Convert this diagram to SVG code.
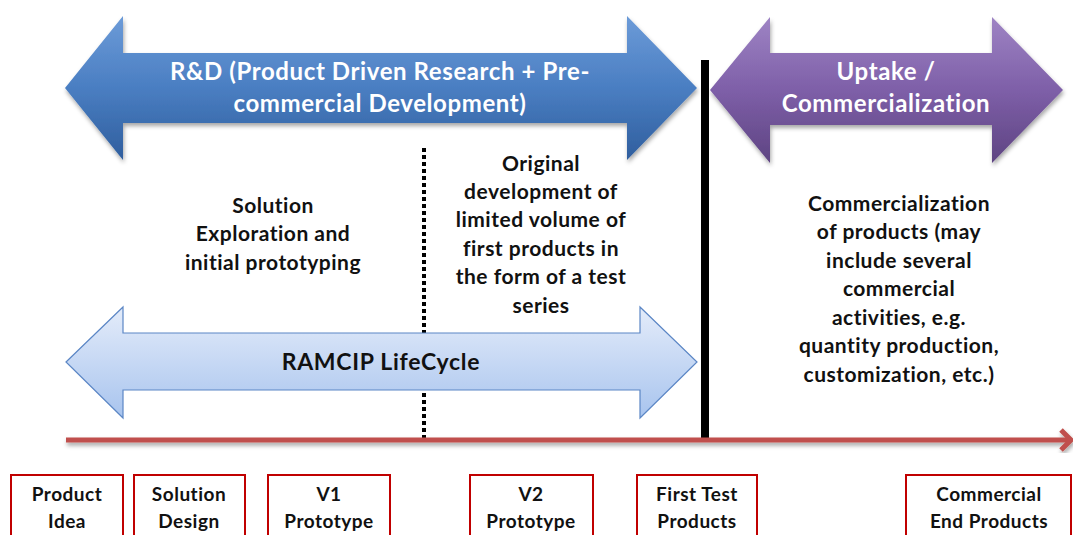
<svg xmlns="http://www.w3.org/2000/svg" width="1073" height="535" viewBox="0 0 1073 535">
<style>
.t{font-family:Lato,"Liberation Sans",sans-serif;font-weight:bold;text-anchor:middle}
.w{fill:#ffffff;font-size:24px;letter-spacing:0.6px}
.b{fill:#111111;font-size:21px;letter-spacing:0.5px}
.box{fill:#ffffff;stroke:#C00000;stroke-width:2}
.bt{fill:#111111;font-size:19px;letter-spacing:0.5px}
</style>
<defs>
<linearGradient id="gBlue" x1="0" y1="0" x2="0" y2="1">
<stop offset="0" stop-color="#6C9BD8"/><stop offset="0.5" stop-color="#4A7EC2"/><stop offset="1" stop-color="#2F5E9E"/>
</linearGradient>
<linearGradient id="gPurple" x1="0" y1="0" x2="0" y2="1">
<stop offset="0" stop-color="#9E84C4"/><stop offset="0.5" stop-color="#7E5FA8"/><stop offset="1" stop-color="#5E4482"/>
</linearGradient>
<linearGradient id="gLight" x1="0" y1="0" x2="0" y2="1">
<stop offset="0" stop-color="#E4ECFA"/><stop offset="1" stop-color="#A8C4EE"/>
</linearGradient>
<filter id="sh" x="-5%" y="-10%" width="110%" height="125%">
<feDropShadow dx="1" dy="3" stdDeviation="2" flood-color="#000" flood-opacity="0.35"/>
</filter>
</defs>

<g id="rd-arrow">
<path d="M65,88 L123,16 L123,53 L627,53 L627,16 L697,88 L627,160 L627,123 L123,123 L123,160 Z" fill="url(#gBlue)" filter="url(#sh)"/>
<text class="t w" x="380" y="80">R&amp;D (Product Driven Research + Pre-</text>
<text class="t w" x="380" y="112">commercial Development)</text>
</g>

<g id="uptake-arrow">
<path d="M710,90 L770,17 L770,53 L992,53 L992,17 L1063,90 L992,163 L992,125 L770,125 L770,163 Z" fill="url(#gPurple)" filter="url(#sh)"/>
<text class="t w" x="886" y="80">Uptake /</text>
<text class="t w" x="886" y="112">Commercialization</text>
</g>

<g id="connectors">
<line x1="424" y1="148" x2="424" y2="438" stroke="#000" stroke-width="4" stroke-dasharray="4 3"/>
<line x1="705" y1="60" x2="705" y2="440" stroke="#000" stroke-width="8"/>
<g filter="url(#sh)">
<line x1="66" y1="440" x2="1070" y2="440" stroke="#C0504D" stroke-width="5"/>
<polyline points="1061,430 1071,440 1061,450" fill="none" stroke="#C0504D" stroke-width="5"/>
</g>
</g>

<g id="lifecycle-arrow">
<path d="M66,362 L123,307 L123,333 L640,333 L640,307 L697,362 L640,418 L640,390 L123,390 L123,418 Z" fill="url(#gLight)" stroke="#5B86C5" stroke-width="1.2"/>
<text class="t" x="381" y="370" style="font-size:23px;letter-spacing:0.7px;fill:#111">RAMCIP LifeCycle</text>
</g>

<g id="solution-text">
<text class="t b" x="273" y="213">Solution</text>
<text class="t b" x="273" y="241">Exploration and</text>
<text class="t b" x="273" y="270">initial prototyping</text>
</g>

<g id="original-text">
<text class="t b" x="541" y="171">Original</text>
<text class="t b" x="541" y="199">development of</text>
<text class="t b" x="541" y="227">limited volume of</text>
<text class="t b" x="541" y="256">first products in</text>
<text class="t b" x="541" y="284">the form of a test</text>
<text class="t b" x="541" y="313">series</text>
</g>

<g id="commercial-text">
<text class="t b" x="899" y="211">Commercialization</text>
<text class="t b" x="899" y="239">of products (may</text>
<text class="t b" x="899" y="268">include several</text>
<text class="t b" x="899" y="296">commercial</text>
<text class="t b" x="899" y="325">activities, e.g.</text>
<text class="t b" x="899" y="353">quantity production,</text>
<text class="t b" x="899" y="382">customization, etc.)</text>
</g>

<g id="box-product-idea">
<rect class="box" x="11" y="475" width="112" height="70"/>
<text class="t bt" x="67" y="501">Product</text>
<text class="t bt" x="67" y="528">Idea</text>
</g>
<g id="box-solution-design">
<rect class="box" x="134" y="475" width="111" height="70"/>
<text class="t bt" x="189" y="501">Solution</text>
<text class="t bt" x="189" y="528">Design</text>
</g>
<g id="box-v1">
<rect class="box" x="268" y="475" width="122" height="70"/>
<text class="t bt" x="329" y="501">V1</text>
<text class="t bt" x="329" y="528">Prototype</text>
</g>
<g id="box-v2">
<rect class="box" x="470" y="475" width="123" height="70"/>
<text class="t bt" x="531" y="501">V2</text>
<text class="t bt" x="531" y="528">Prototype</text>
</g>
<g id="box-first-test">
<rect class="box" x="637" y="475" width="120" height="70"/>
<text class="t bt" x="697" y="501">First Test</text>
<text class="t bt" x="697" y="528">Products</text>
</g>
<g id="box-commercial-end">
<rect class="box" x="906" y="475" width="165" height="70"/>
<text class="t bt" x="989" y="501">Commercial</text>
<text class="t bt" x="989" y="528">End Products</text>
</g>
</svg>
